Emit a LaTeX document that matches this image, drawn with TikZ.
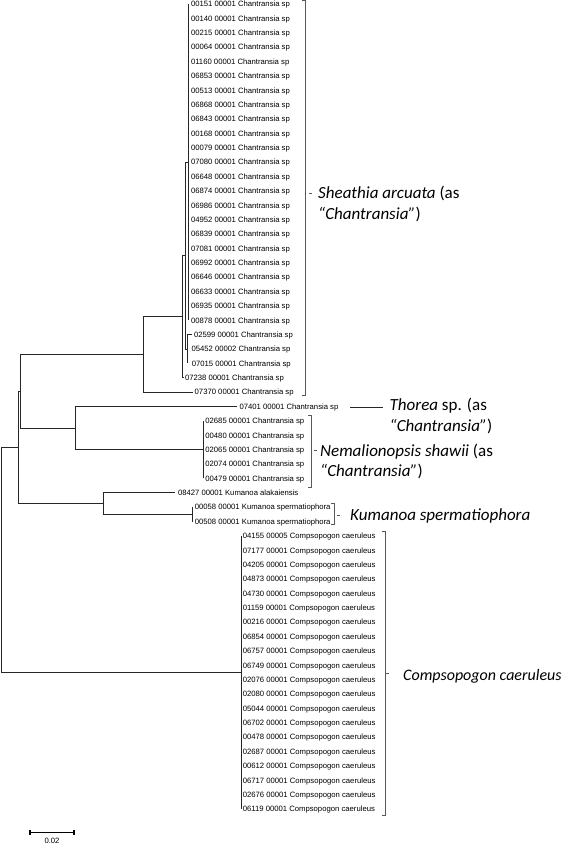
\documentclass[tikz,border=0pt]{standalone}
\usepackage{fontspec}
\setmainfont{Liberation Sans}
\newfontfamily\cladefont{Carlito}
\begin{document}
\begin{tikzpicture}[x=1pt,y=-1pt,
  br/.style={line width=0.8pt,black!85},
  bracketline/.style={line width=0.8pt,black!65},
  leaf/.style={inner sep=0pt,anchor=base west,font=\fontsize{7.7}{9}\selectfont},
  clade/.style={inner sep=0pt,anchor=base west,font=\cladefont\fontsize{17}{21}\selectfont},
  scalebar/.style={line width=1.4pt,black}]
\fill[white] (0,0) rectangle (567,845);
\useasboundingbox (0,0) rectangle (567,845);
% leaves: index / label / tip x / label x
\foreach \i/\lab/\tx/\lx in {
 0/{00151 00001 Chantransia sp}/188.7/190.8,
 1/{00140 00001 Chantransia sp}/188.7/190.8,
 2/{00215 00001 Chantransia sp}/188.7/190.8,
 3/{00064 00001 Chantransia sp}/188.7/190.8,
 4/{01160 00001 Chantransia sp}/188.7/190.8,
 5/{06853 00001 Chantransia sp}/188.7/190.8,
 6/{00513 00001 Chantransia sp}/188.7/190.8,
 7/{06868 00001 Chantransia sp}/188.7/190.8,
 8/{06843 00001 Chantransia sp}/188.7/190.8,
 9/{00168 00001 Chantransia sp}/188.7/190.8,
 10/{00079 00001 Chantransia sp}/188.7/190.8,
 11/{07080 00001 Chantransia sp}/188.7/190.8,
 12/{06648 00001 Chantransia sp}/188.7/190.8,
 13/{06874 00001 Chantransia sp}/188.7/190.8,
 14/{06986 00001 Chantransia sp}/188.7/190.8,
 15/{04952 00001 Chantransia sp}/188.7/190.8,
 16/{06839 00001 Chantransia sp}/188.7/190.8,
 17/{07081 00001 Chantransia sp}/188.7/190.8,
 18/{06992 00001 Chantransia sp}/188.7/190.8,
 19/{06646 00001 Chantransia sp}/188.7/190.8,
 20/{06633 00001 Chantransia sp}/188.7/190.8,
 21/{06935 00001 Chantransia sp}/188.7/190.8,
 22/{00878 00001 Chantransia sp}/188.7/190.8,
 23/{02599 00001 Chantransia sp}/192.0/193.8,
 24/{05452 00002 Chantransia sp}/187.3/191.3,
 25/{07015 00001 Chantransia sp}/187.3/191.6,
 26/{07238 00001 Chantransia sp}/184.0/184.8,
 27/{07370 00001 Chantransia sp}/193.0/194.5,
 28/{07401 00001 Chantransia sp}/237.0/239.3,
 29/{02685 00001 Chantransia sp}/203.3/205.2,
 30/{00480 00001 Chantransia sp}/203.3/205.2,
 31/{02065 00001 Chantransia sp}/203.3/205.2,
 32/{02074 00001 Chantransia sp}/203.3/205.2,
 33/{00479 00001 Chantransia sp}/203.3/205.2,
 34/{08427 00001 Kumanoa alakaiensis}/175.0/177.8,
 35/{00058 00001 Kumanoa spermatiophora}/192.7/194.6,
 36/{00508 00001 Kumanoa spermatiophora}/192.7/194.6,
 37/{04155 00005 Compsopogon caeruleus}/241.0/242.6,
 38/{07177 00001 Compsopogon caeruleus}/241.0/242.6,
 39/{04205 00001 Compsopogon caeruleus}/241.0/242.6,
 40/{04873 00001 Compsopogon caeruleus}/241.0/242.6,
 41/{04730 00001 Compsopogon caeruleus}/241.0/242.6,
 42/{01159 00001 Compsopogon caeruleus}/241.0/242.6,
 43/{00216 00001 Compsopogon caeruleus}/241.0/242.6,
 44/{06854 00001 Compsopogon caeruleus}/241.0/242.6,
 45/{06757 00001 Compsopogon caeruleus}/241.0/242.6,
 46/{06749 00001 Compsopogon caeruleus}/241.0/242.6,
 47/{02076 00001 Compsopogon caeruleus}/241.0/242.6,
 48/{02080 00001 Compsopogon caeruleus}/241.0/242.6,
 49/{05044 00001 Compsopogon caeruleus}/241.0/242.6,
 50/{06702 00001 Compsopogon caeruleus}/241.0/242.6,
 51/{00478 00001 Compsopogon caeruleus}/241.0/242.6,
 52/{02687 00001 Compsopogon caeruleus}/241.0/242.6,
 53/{00612 00001 Compsopogon caeruleus}/241.0/242.6,
 54/{06717 00001 Compsopogon caeruleus}/241.0/242.6,
 55/{02676 00001 Compsopogon caeruleus}/241.0/242.6,
 56/{06119 00001 Compsopogon caeruleus}/241.0/242.6}
{
  \coordinate (t\i) at (\tx,{4+14.375*\i});
  \node[leaf] (l\i) at (\lx,{4+14.375*\i+2.8}) {\lab};
}
% internal nodes
\coordinate (S4) at (188.7,162.125);
\coordinate (S5) at (187.3,349.0);
\coordinate (S3) at (185.5,255.56);
\coordinate (S2) at (182.7,316.65);
\coordinate (S1) at (143.0,354.4);
\coordinate (N)  at (203.3,449.6);
\coordinate (T)  at (75.0,428.1);
\coordinate (A)  at (20.0,391.2);
\coordinate (K2) at (192.7,514.3);
\coordinate (K)  at (103.0,503.5);
\coordinate (B)  at (18.0,447.4);
\coordinate (C)  at (241.0,672.5);
\coordinate (R)  at (1.5,560.0);
% branches
\foreach \i in {0,...,22} \draw[br] (S4) |- (t\i);
\foreach \i in {23,24,25} \draw[br] (S5) |- (t\i);
\draw[br] (S3) |- (S4);
\draw[br] (S3) |- (S5);
\draw[br] (S2) |- (S3);
\draw[br] (S2) |- (t26);
\draw[br] (S1) |- (S2);
\draw[br] (S1) |- (t27);
\foreach \i in {29,...,33} \draw[br] (N) |- (t\i);
\draw[br] (T) |- (t28);
\draw[br] (T) |- (N);
\draw[br] (A) |- (S1);
\draw[br] (A) |- (T);
\draw[br] (K2) |- (t35);
\draw[br] (K2) |- (t36);
\draw[br] (K) |- (t34);
\draw[br] (K) |- (K2);
\draw[br] (B) |- (A);
\draw[br] (B) |- (K);
\foreach \i in {37,...,56} \draw[br] (C) |- (t\i);
\draw[br] (R|-B) -- (B);
\draw[br] (R|-B) -- (R|-C) -- (C);
% brackets
\coordinate (shTop) at (305.5,0.8);
\coordinate (shBot) at (305.5,395.0);
\draw[bracketline] ([xshift=-3.5pt]shTop) -- (shTop) -- (shBot) -- ([xshift=-3.5pt]shBot);
\coordinate (shTick) at (309.3,193.0);
\draw[bracketline] (shTick) -- ++(3,0);
\coordinate (neTop) at (311.7,415.0);
\coordinate (neBot) at (311.7,487.0);
\draw[bracketline] ([xshift=-3.5pt]neTop) -- (neTop) -- (neBot) -- ([xshift=-3.5pt]neBot);
\coordinate (neTick) at (313.5,450.5);
\draw[bracketline] (neTick) -- ++(3,0);
\coordinate (kuTop) at (334.5,503.0);
\coordinate (kuBot) at (334.5,524.5);
\draw[bracketline] ([xshift=-3.5pt]kuTop) -- (kuTop) -- (kuBot) -- ([xshift=-3.5pt]kuBot);
\coordinate (kuTick) at (336.5,515.0);
\draw[bracketline] (kuTick) -- ++(3,0);
\coordinate (coTop) at (385.0,531.0);
\coordinate (coBot) at (385.0,815.0);
\draw[bracketline] ([xshift=-3.5pt]coTop) -- (coTop) -- (coBot) -- ([xshift=-3.5pt]coBot);
\coordinate (coTick) at (386.0,673.0);
\draw[bracketline] (coTick) -- ++(2.5,0);
% Thorea connector
\coordinate (thS) at (350.0,407.0);
\coordinate (thE) at (383.0,407.0);
\draw[br] (thS) -- (thE);
% clade labels
\node[clade] (sh1) at (318,198.5) {\itshape Sheathia arcuata\upshape{} (as};
\node[clade] (sh2) at (318,219.8) {\itshape “Chantransia”\upshape)};
\node[clade] (th1) at (389.5,410.3) {\itshape Thorea\upshape{} sp. (as};
\node[clade] (th2) at (389.5,431.7) {\itshape “Chantransia”\upshape)};
\node[clade] (ne1) at (320,456.0) {\itshape Nemalionopsis shawii\upshape{} (as};
\node[clade] (ne2) at (320,476.5) {\itshape “Chantransia”\upshape)};
\node[clade] (ku1) at (350,520.7) {\itshape Kumanoa spermatiophora};
\node[clade,font=\cladefont\fontsize{16}{20}\selectfont] (co1) at (403,680.0) {\itshape Compsopogon caeruleus};
% scale bar
\coordinate (sbL) at (30,832.3);
\coordinate (sbR) at (74,832.3);
\draw[scalebar] (sbL) -- (sbR);
\draw[scalebar] ([yshift=-2.6pt]sbL) -- ([yshift=2.6pt]sbL);
\draw[scalebar] ([yshift=-2.6pt]sbR) -- ([yshift=2.6pt]sbR);
\node[leaf,anchor=base] (sbt) at (52,843.5) {0.02};
\end{tikzpicture}
\end{document}
